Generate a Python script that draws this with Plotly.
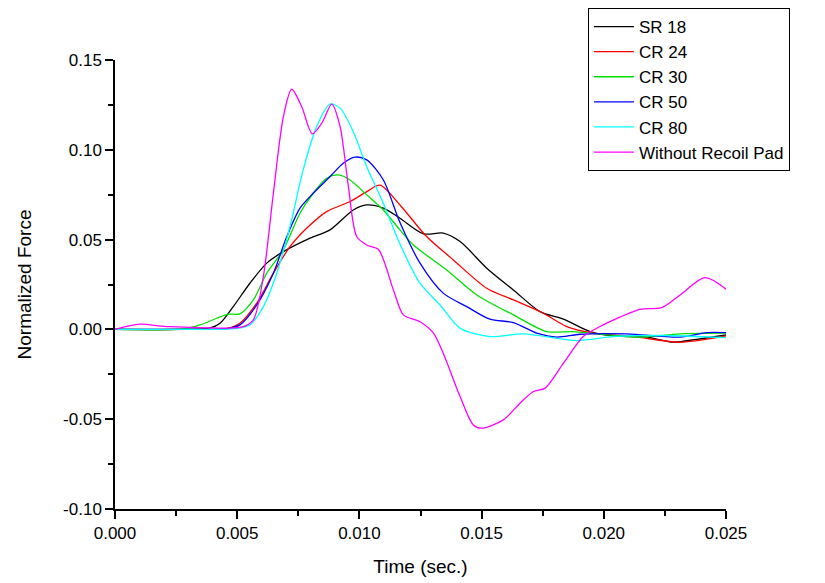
import plotly.graph_objects as go

# Time (s) / normalized force
sr18_t = [0.0, 0.0025, 0.0039, 0.0043, 0.00484, 0.00552, 0.00621, 0.00689, 0.00798, 0.0088, 0.00975, 0.0103,
          0.01098, 0.01166, 0.01262, 0.01343, 0.01412, 0.01521, 0.0163, 0.01739, 0.01835, 0.01944, 0.02039,
          0.02176, 0.02285, 0.0238, 0.025]
sr18_f = [0.0, 0.0, 0.0008, 0.0034, 0.0127, 0.0257, 0.0369, 0.0433, 0.0508, 0.0554, 0.0665, 0.0693,
          0.0675, 0.0619, 0.0532, 0.0536, 0.0489, 0.0341, 0.022, 0.0099, 0.0057, -0.0012, -0.0036,
          -0.0043, -0.0071, -0.0055, -0.0031]

cr24_t = [0.0, 0.003, 0.00457, 0.00511, 0.0058, 0.00648, 0.00716, 0.00784, 0.00866, 0.00962, 0.0103, 0.01084,
          0.01166, 0.01275, 0.01384, 0.01521, 0.0163, 0.01753, 0.01848, 0.01957, 0.02121, 0.02312, 0.025]
cr24_f = [0.0, 0.0, 0.0005, 0.0034, 0.0146, 0.0313, 0.0461, 0.0563, 0.0656, 0.0712, 0.0767, 0.0803,
          0.0693, 0.0517, 0.0387, 0.0229, 0.0164, 0.009, 0.0016, -0.0021, -0.004, -0.0071, -0.0036]

cr30_t = [0.0, 0.0028, 0.00348, 0.00416, 0.00464, 0.00511, 0.00566, 0.00621, 0.00689, 0.00757, 0.00811,
          0.00866, 0.00914, 0.00962, 0.0103, 0.01098, 0.01166, 0.01221, 0.01357, 0.0148, 0.0163, 0.01767,
          0.01875, 0.01971, 0.02148, 0.02312, 0.025]
cr30_f = [0.0, 0.0003, 0.0025, 0.0062, 0.0085, 0.0086, 0.0164, 0.0313, 0.0443, 0.0647, 0.0758,
          0.0842, 0.086, 0.0832, 0.0749, 0.0665, 0.0554, 0.047, 0.0331, 0.0192, 0.0081, -0.0012,
          -0.0012, -0.0025, -0.0043, -0.0025, -0.0021]

cr50_t = [0.0, 0.003, 0.00457, 0.00511, 0.0058, 0.00648, 0.00703, 0.00757, 0.00811, 0.0088, 0.00934, 0.00982,
          0.0103, 0.01098, 0.01166, 0.01248, 0.01343, 0.01439, 0.01534, 0.0163, 0.01726, 0.01807, 0.01903,
          0.02094, 0.02312, 0.02421, 0.025]
cr50_f = [0.0, 0.0, 0.0004, 0.0025, 0.0136, 0.0313, 0.0517, 0.0675, 0.0758, 0.0851, 0.0925, 0.0959,
          0.0944, 0.0832, 0.0595, 0.0369, 0.0202, 0.0127, 0.0057, 0.0038, -0.0021, -0.0043, -0.0027,
          -0.0025, -0.0043, -0.0018, -0.0018]

cr80_t = [0.0, 0.003, 0.0049, 0.00552, 0.00607, 0.00662, 0.00716, 0.0077, 0.00825, 0.0088, 0.00921, 0.00975,
          0.0103, 0.01098, 0.01166, 0.01248, 0.0133, 0.01412, 0.01534, 0.01671, 0.01889, 0.02039, 0.02244,
          0.025]
cr80_f = [0.0, 0.0, 0.0004, 0.0025, 0.0127, 0.0313, 0.0572, 0.0888, 0.1129, 0.1254, 0.1232, 0.1101,
          0.0906, 0.0703, 0.0475, 0.0257, 0.0136, 0.0007, -0.004, -0.0025, -0.0062, -0.004, -0.0034,
          -0.0046]

nopad_t = [0.0, 0.00102, 0.0021, 0.00525, 0.00566, 0.00607, 0.00648, 0.00689, 0.00723, 0.00764, 0.00807,
           0.00846, 0.00887, 0.00921, 0.00955, 0.00989, 0.0103, 0.01078, 0.01139, 0.0118, 0.01248,
           0.01303, 0.01343, 0.01412, 0.01466, 0.015, 0.01589, 0.01657, 0.01712, 0.0176, 0.01835, 0.01916,
           0.01985, 0.02066, 0.02148, 0.02237, 0.02312, 0.02414, 0.025]
nopad_f = [0.0, 0.0029, 0.0016, 0.0016, 0.0053, 0.0294, 0.0758, 0.1185, 0.1337, 0.124, 0.1089,
           0.1148, 0.1254, 0.1129, 0.0795, 0.0517, 0.047, 0.0445, 0.022, 0.0081, 0.0043,
           -0.0021, -0.0133, -0.0374, -0.0532, -0.055, -0.0504, -0.0411, -0.0346, -0.0327, -0.0188, -0.004,
           0.0016, 0.0068, 0.0112, 0.0121, 0.0192, 0.0288, 0.0224]

y_ticks = [-0.10, -0.05, 0.0, 0.05, 0.10, 0.15]
y_labels = ["-0.10", "-0.05", "0.00", "0.05", "0.10", "0.15"]
x_ticks = [0.0, 0.005, 0.01, 0.015, 0.02, 0.025]

series = [
    ("SR 18", sr18_t, sr18_f, "#000000"),
    ("CR 24", cr24_t, cr24_f, "#ff0000"),
    ("CR 30", cr30_t, cr30_f, "#00e000"),
    ("CR 50", cr50_t, cr50_f, "#0000ff"),
    ("CR 80", cr80_t, cr80_f, "#00ffff"),
    ("Without Recoil Pad", nopad_t, nopad_f, "#ff00ff"),
]

fig = go.Figure()
for name, t, f, col in series:
    fig.add_trace(go.Scatter(
        x=t, y=f, name=name, mode="lines",
        line=dict(color=col, width=1.3, shape="spline", smoothing=0.8),
    ))

axis_common = dict(
    showline=True, linecolor="black", linewidth=1.5,
    showgrid=False, zeroline=False, mirror=False,
    ticks="outside", ticklen=8, tickwidth=1.5, tickcolor="black",
    tickfont=dict(family="Liberation Sans, Arial", size=17, color="black"),
)

# page body adds an 8px offset, so the figure is sized 817x575
fig.update_layout(
    width=817, height=575,
    paper_bgcolor="white", plot_bgcolor="white",
    margin=dict(l=107, r=99, t=52, b=74, autoexpand=False),
    font=dict(family="Liberation Sans, Arial", color="black"),
    showlegend=True,
    legend=dict(
        x=0.774, y=1.1158, xanchor="left", yanchor="top",
        bordercolor="black", borderwidth=1, bgcolor="white",
        font=dict(size=17, color="black"),
        itemwidth=40, tracegroupgap=0,
    ),
    xaxis=dict(
        axis_common, range=[0, 0.025], tickvals=x_ticks,
        tickformat=".3f",
        minor=dict(dtick=0.0025, tick0=0, ticks="outside", ticklen=5, tickwidth=1.5, tickcolor="black", showgrid=False),
        title=dict(text="Time (sec.)", font=dict(size=19), standoff=18),
    ),
    yaxis=dict(
        axis_common, range=[-0.10, 0.15], tickvals=y_ticks, ticktext=y_labels,
        minor=dict(dtick=0.025, tick0=0, ticks="outside", ticklen=5, tickwidth=1.5, tickcolor="black", showgrid=False),
        title=dict(text="Normalized Force", font=dict(size=19), standoff=26),
    ),
)

fig.write_html("out.html")
